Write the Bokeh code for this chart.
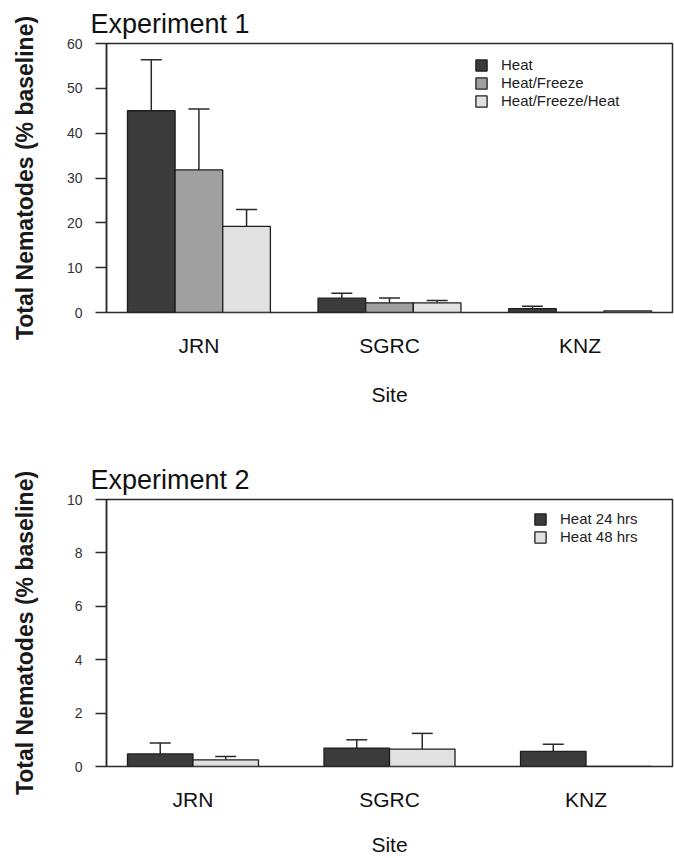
from bokeh.plotting import figure
from bokeh.models import (Range1d, FixedTicker, Whisker, TeeHead, ColumnDataSource,
                          Legend, LegendItem)
from bokeh.layouts import column
from bokeh.embed import file_html
from bokeh.resources import INLINE

sites = ["JRN", "SGRC", "KNZ"]

exp1_treatments = ["Heat", "Heat/Freeze", "Heat/Freeze/Heat"]
exp1_heat = [45.0, 3.2, 0.85]
exp1_heat_freeze = [31.8, 2.15, 0.0]
exp1_heat_freeze_heat = [19.2, 2.15, 0.35]
exp1_heat_err = [11.4, 1.1, 0.55]
exp1_heat_freeze_err = [13.6, 1.1, 0.0]
exp1_heat_freeze_heat_err = [3.8, 0.55, 0.0]
exp1_y_ticks = [0, 10, 20, 30, 40, 50, 60]

exp2_treatments = ["Heat 24 hrs", "Heat 48 hrs"]
exp2_heat24 = [0.47, 0.69, 0.57]
exp2_heat48 = [0.25, 0.65, 0.0]
exp2_heat24_err = [0.41, 0.31, 0.26]
exp2_heat48_err = [0.12, 0.59, 0.0]
exp2_y_ticks = [0, 2, 4, 6, 8, 10]

FILLS3 = ["#3b3b3b", "#a0a0a0", "#e1e1e1"]
FILLS2 = ["#3b3b3b", "#e1e1e1"]
FONT = "Liberation Sans"
INK = "#2a2a2a"


def make_panel(title, series, errors, names, fills, y_ticks, height,
               border_top, border_bottom, legend_xy, site_standoff):
    n = len(series)
    g = len(sites)
    lo = 1.0
    hi = g * (n + 1)
    pad = 0.04 * (hi - lo)
    p = figure(width=674, height=height,
               x_range=Range1d(lo - pad, hi + pad),
               y_range=Range1d(y_ticks[0], y_ticks[-1]),
               output_backend="svg", toolbar_location=None,
               min_border_left=106, min_border_right=2,
               min_border_top=border_top, min_border_bottom=border_bottom,
               title=title)
    p.background_fill_color = "white"
    p.border_fill_color = "white"
    p.outline_line_color = INK
    p.outline_line_width = 1.5
    p.xgrid.visible = False
    p.ygrid.visible = False

    p.title.text_font = FONT
    p.title.text_font_size = "27px"
    p.title.text_font_style = "normal"
    p.title.text_color = "#111111"
    p.title.align = "left"
    p.title.offset = -16
    p.title.standoff = 10

    items = []
    for i, (vals, errs, name, fill) in enumerate(zip(series, errors, names, fills)):
        xs = [1 + k * (n + 1) + i + 0.5 for k in range(g)]
        src = ColumnDataSource(dict(x=xs, top=vals))
        r = p.vbar(x="x", top="top", bottom=0, width=1.0, source=src,
                   fill_color=fill, line_color="#1e1e1e", line_width=1.3)
        items.append(LegendItem(label=name, renderers=[r]))
        ex = [x for x, e in zip(xs, errs) if e > 0]
        et = [v for v, e in zip(vals, errs) if e > 0]
        eu = [v + e for v, e in zip(vals, errs) if e > 0]
        esrc = ColumnDataSource(dict(x=ex, top=et, upper=eu))
        w = Whisker(source=esrc, base="x", lower="top", upper="upper",
                    dimension="height", line_color=INK, line_width=1.5,
                    lower_head=None,
                    upper_head=TeeHead(size=21, line_color=INK, line_width=1.5))
        p.add_layout(w)

    centers = [1 + k * (n + 1) + n / 2.0 for k in range(g)]
    p.xaxis.ticker = FixedTicker(ticks=centers)
    p.xaxis.major_label_overrides = {float(c): s for c, s in zip(centers, sites)}
    p.xaxis.major_tick_line_color = None
    p.xaxis.major_tick_out = 0
    p.xaxis.major_tick_in = 0
    p.xaxis.minor_tick_line_color = None
    p.xaxis.minor_tick_out = 0
    p.xaxis.axis_line_color = None
    p.xaxis.major_label_text_font = FONT
    p.xaxis.major_label_text_font_size = "21px"
    p.xaxis.major_label_text_color = "#111111"
    p.xaxis.major_label_standoff = 21
    p.xaxis.axis_label = "Site"
    p.xaxis.axis_label_text_font = FONT
    p.xaxis.axis_label_text_font_size = "21px"
    p.xaxis.axis_label_text_font_style = "normal"
    p.xaxis.axis_label_text_color = "#111111"
    p.xaxis.axis_label_standoff = site_standoff

    p.yaxis.ticker = FixedTicker(ticks=y_ticks)
    p.yaxis.minor_tick_line_color = None
    p.yaxis.major_tick_in = 0
    p.yaxis.major_tick_out = 11
    p.yaxis.major_tick_line_color = INK
    p.yaxis.major_tick_line_width = 1.5
    p.yaxis.axis_line_color = INK
    p.yaxis.axis_line_width = 1.5
    p.yaxis.major_label_text_font = FONT
    p.yaxis.major_label_text_font_size = "14px"
    p.yaxis.major_label_text_color = "#333333"
    p.yaxis.major_label_standoff = 13
    p.yaxis.axis_label = "Total Nematodes (% baseline)"
    p.yaxis.axis_label_text_font = FONT
    p.yaxis.axis_label_text_font_size = "23px"
    p.yaxis.axis_label_text_font_style = "bold"
    p.yaxis.axis_label_text_color = "#1a1a1a"
    p.yaxis.axis_label_standoff = 26

    legend = Legend(items=items, location=legend_xy,
                    glyph_width=14, glyph_height=14, label_standoff=13,
                    spacing=1, padding=0, margin=0,
                    label_height=12, label_width=10,
                    label_text_font=FONT, label_text_font_size="15px",
                    label_text_color="#222222",
                    border_line_color=None, background_fill_alpha=0)
    p.add_layout(legend)
    return p


p1 = make_panel("Experiment 1",
                [exp1_heat, exp1_heat_freeze, exp1_heat_freeze_heat],
                [exp1_heat_err, exp1_heat_freeze_err, exp1_heat_freeze_heat_err],
                exp1_treatments, FILLS3, exp1_y_ticks,
                height=440, border_top=43, border_bottom=128,
                legend_xy=(368, 203), site_standoff=23)

p2 = make_panel("Experiment 2",
                [exp2_heat24, exp2_heat48],
                [exp2_heat24_err, exp2_heat48_err],
                exp2_treatments, FILLS2, exp2_y_ticks,
                height=418, border_top=59, border_bottom=91,
                legend_xy=(427, 221), site_standoff=19)

layout = column(p1, p2, spacing=0)
open("out.html", "w").write(file_html(layout, INLINE))
